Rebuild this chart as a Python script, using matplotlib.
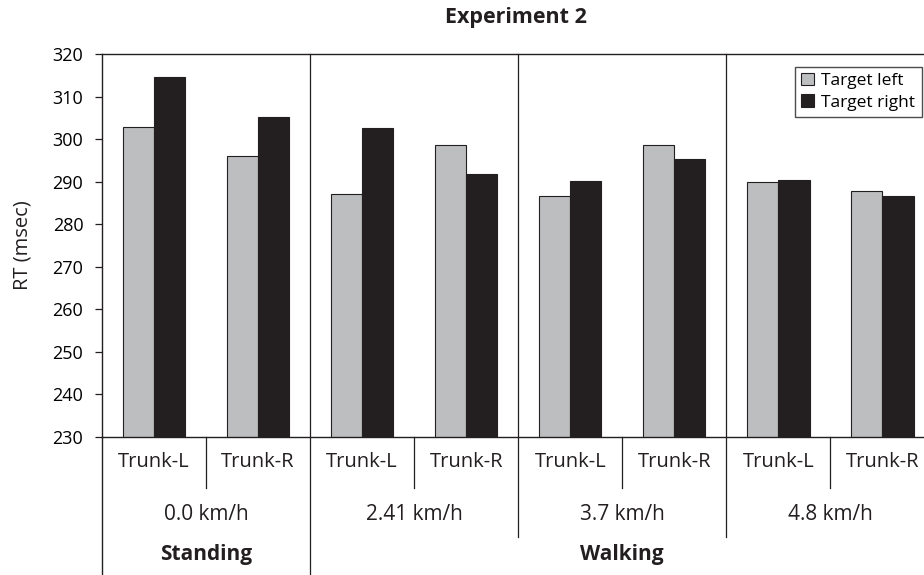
import matplotlib.pyplot as plt
from matplotlib.patches import Patch
from matplotlib.transforms import blended_transform_factory

plt.rcParams["font.family"] = ["Open Sans", "DejaVu Sans"]

# data
trunk_labels = ["Trunk-L", "Trunk-R"] * 4
speed_labels = ["0.0 km/h", "2.41 km/h", "3.7 km/h", "4.8 km/h"]
posture_labels = ["Standing", "Walking"]
target_left = [302.9, 296.0, 287.0, 298.5, 286.6, 298.5, 289.9, 287.9]
target_right = [314.5, 305.1, 302.5, 291.8, 290.1, 295.3, 290.5, 286.6]
yticks = list(range(230, 321, 10))

GRAY = "#bcbec0"
BLACK = "#231f20"
LINE = "#231f20"

W, H = 924, 575
fig = plt.figure(figsize=(W / 100, H / 100), dpi=100)
ax = fig.add_axes([102 / W, 1 - 437 / H, 822 / W, 383 / H])

x = list(range(len(trunk_labels)))
bw = 0.3
ax.bar([i - bw / 2 for i in x], target_left, bw, color=GRAY,
       edgecolor=LINE, linewidth=0.8, label="Target left")
ax.bar([i + bw / 2 for i in x], target_right, bw, color=BLACK,
       edgecolor=LINE, linewidth=0.8, label="Target right")

ax.set_ylim(230, 320)
ax.set_xlim(-0.5, 7.4)
ax.set_yticks(yticks)
ax.tick_params(axis="y", direction="out", length=5, width=0.9, pad=8.5,
               labelsize=13, color=LINE)
ax.set_xticks([])
for side in ["left", "top", "bottom"]:
    ax.spines[side].set_color(LINE)
    ax.spines[side].set_linewidth(1.0)
ax.spines["right"].set_visible(False)

# category table under the axis, drawn in data-x / axes-y coordinates
tr = blended_transform_factory(ax.transData, ax.transAxes)
px = 1 / 383  # one pixel in axes-y units
y_trunk = -(488 - 437) * px
y_speed = -(537 - 437) * px
y_bottom = -(575 - 437) * px

ax.plot([-0.5, -0.5], [0, y_bottom], color=LINE, lw=1.0, transform=tr, clip_on=False)
for k in range(4):
    ax.plot([2 * k + 0.5] * 2, [0, y_trunk], color=LINE, lw=0.9, transform=tr, clip_on=False)
for k, xs in enumerate([1.5, 3.5, 5.5]):
    bottom = y_bottom if k == 0 else y_speed
    ax.plot([xs, xs], [1, bottom], color=LINE, lw=0.9, transform=tr, clip_on=False)

for i, lab in enumerate(trunk_labels):
    ax.text(i, -(467 - 437) * px, lab, ha="center", va="baseline",
            fontsize=14.5, color=BLACK, transform=tr, clip_on=False)
for k, lab in enumerate(speed_labels):
    ax.text(2 * k + 0.5, -(520.5 - 437) * px, lab, ha="center", va="baseline",
            fontsize=15, color=BLACK, transform=tr, clip_on=False)
ax.text(0.5, -(560 - 437) * px, posture_labels[0], ha="center", va="baseline",
        fontsize=15, fontweight="bold", color=BLACK, transform=tr, clip_on=False)
ax.text(4.5, -(560 - 437) * px, posture_labels[1], ha="center", va="baseline",
        fontsize=15, fontweight="bold", color=BLACK, transform=tr, clip_on=False)

fig.text(23 / W, 1 - 245 / H, "RT (msec)", rotation=90, ha="center", va="center",
         fontsize=14.5, color=BLACK)
fig.text(516 / W, 1 - 18 / H, "Experiment 2", ha="center", va="center",
         fontsize=15.5, fontweight="bold", color=BLACK)

handles = [Patch(facecolor=GRAY, edgecolor=LINE, linewidth=0.8),
           Patch(facecolor=BLACK, edgecolor=LINE, linewidth=0.8)]
leg = ax.legend(handles, ["Target left", "Target right"], loc="upper right",
                bbox_to_anchor=(921.5 / W, 1 - 66.5 / H), bbox_transform=fig.transFigure,
                fontsize=12.5, frameon=True, fancybox=False, handlelength=0.75,
                handleheight=0.75, handletextpad=0.45, borderpad=0.35,
                labelspacing=0.3, borderaxespad=0)
leg.get_frame().set_edgecolor(LINE)
leg.get_frame().set_linewidth(1.0)

fig.savefig("out.png", dpi=100)
